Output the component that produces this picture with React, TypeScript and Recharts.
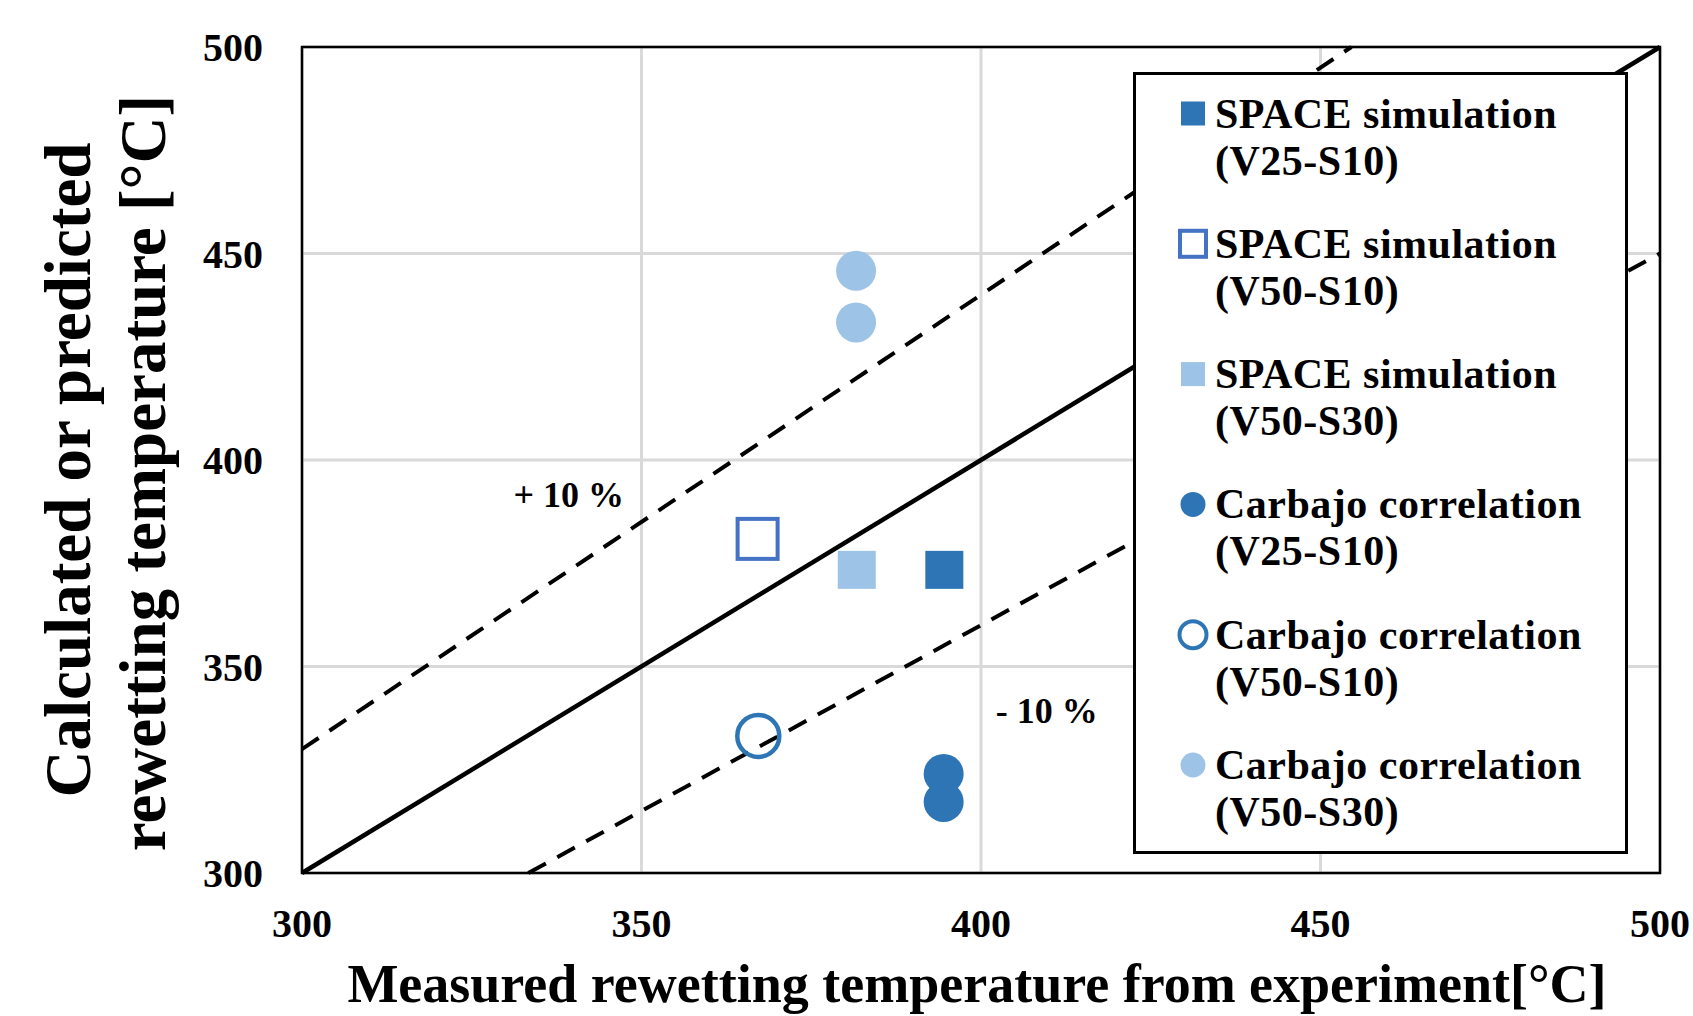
import React from 'react';
import {
  ScatterChart,
  Scatter,
  XAxis,
  YAxis,
  CartesianGrid,
  ReferenceLine,
  ReferenceArea,
  ReferenceDot,
} from 'recharts';

// Measured (x) vs calculated / predicted (y) rewetting temperature [°C]
const spaceV25S10 = [{ x: 394.6, y: 373.4 }];
const spaceV50S10 = [{ x: 367.1, y: 380.9 }];
const spaceV50S30 = [{ x: 381.7, y: 373.4 }];
const carbajoV25S10 = [
  { x: 394.5, y: 324.0 },
  { x: 394.5, y: 317.2 },
];
const carbajoV50S10 = [{ x: 367.2, y: 333.2 }];
const carbajoV50S30 = [
  { x: 381.6, y: 445.8 },
  { x: 381.6, y: 433.3 },
];

const seriesNames = [
  ['SPACE simulation', '(V25-S10)'],
  ['SPACE simulation', '(V50-S10)'],
  ['SPACE simulation', '(V50-S30)'],
  ['Carbajo correlation', '(V25-S10)'],
  ['Carbajo correlation', '(V50-S10)'],
  ['Carbajo correlation', '(V50-S30)'],
];

const axisTicks = [300, 350, 400, 450, 500];

// 1:1 line and the +/-10 % band, end points inside the plot
const perfectLine = [{ x: 300, y: 300 }, { x: 500, y: 500 }];
const plus10Line = [{ x: 300, y: 330 }, { x: 454.55, y: 500 }];
const minus10Line = [{ x: 333.33, y: 300 }, { x: 500, y: 450 }];
const bandLabels = [
  { x: 339.3, y: 391.5, text: '+ 10 %' },
  { x: 409.7, y: 339.2, text: '- 10 %' },
];

const FONT = '"Liberation Serif", "Times New Roman", serif';
const DARK = '#2E75B6';
const LIGHT = '#9DC3E6';
const OUTLINE = '#4472C4';

type MarkStyle = { kind: 'square' | 'circle'; fill: string; stroke?: string };

const markStyles: MarkStyle[] = [
  { kind: 'square', fill: DARK },
  { kind: 'square', fill: '#fff', stroke: OUTLINE },
  { kind: 'square', fill: LIGHT },
  { kind: 'circle', fill: DARK },
  { kind: 'circle', fill: 'none', stroke: DARK },
  { kind: 'circle', fill: LIGHT },
];

const seriesData = [spaceV25S10, spaceV50S10, spaceV50S30, carbajoV25S10, carbajoV50S10, carbajoV50S30];

// big = marker in the plot, otherwise the smaller legend key
const drawMark = (st: MarkStyle, cx: number, cy: number, big: boolean) => {
  if (st.kind === 'square') {
    if (st.stroke) {
      const s = big ? 40 : 26;
      return <rect x={cx - s / 2} y={cy - s / 2} width={s} height={s} fill={st.fill} stroke={st.stroke} strokeWidth={4} />;
    }
    const s = big ? 38 : 24;
    return <rect x={cx - s / 2} y={cy - s / 2} width={s} height={s} fill={st.fill} />;
  }
  if (st.stroke) {
    return <circle cx={cx} cy={cy} r={big ? 21 : 13.5} fill={st.fill} stroke={st.stroke} strokeWidth={big ? 4.5 : 4} />;
  }
  return <circle cx={cx} cy={cy} r={big ? 20 : 12.5} fill={st.fill} />;
};

const tickStyle = { fill: '#000', fontSize: 40, fontWeight: 'bold', fontFamily: FONT };

const YTitle = (props: any) => {
  const vb = props.viewBox;
  const cy = vb.y + vb.height / 2 + 11;
  const common = { fontFamily: FONT, fontWeight: 'bold' as const, fontSize: 65, fill: '#000', textAnchor: 'middle' as const };
  return (
    <g>
      <text {...common} x={90} y={cy - 1} transform={`rotate(-90 90 ${cy - 1})`}>
        Calculated or predicted
      </text>
      <text {...common} x={165} y={cy + 2} transform={`rotate(-90 165 ${cy + 2})`}>
        rewetting temperature [°C]
      </text>
    </g>
  );
};

const XTitle = (props: any) => {
  const vb = props.viewBox;
  return (
    <text
      x={vb.x + vb.width / 2 - 4}
      y={1002}
      textAnchor="middle"
      fontFamily={FONT}
      fontWeight="bold"
      fontSize={54}
      fill="#000"
    >
      Measured rewetting temperature from experiment[°C]
    </text>
  );
};

const LegendBox = () => (
  <div
    style={{
      position: 'absolute',
      left: 1133,
      top: 72,
      width: 495,
      height: 782,
      boxSizing: 'border-box',
      border: '3px solid #000',
      background: '#fff',
    }}
  >
    <svg width={489} height={776} style={{ display: 'block' }}>
      {seriesNames.map((name, i) => {
        const cy = 38.5 + i * 130.3;
        return (
          <g key={i}>
            {drawMark(markStyles[i], 57, cy, false)}
            <text x={79} y={cy + 14} fontFamily={FONT} fontWeight="bold" fontSize={42} letterSpacing={0.5} fill="#000">
              {name[0]}
            </text>
            <text x={79} y={cy + 61} fontFamily={FONT} fontWeight="bold" fontSize={42} letterSpacing={0.5} fill="#000">
              {name[1]}
            </text>
          </g>
        );
      })}
    </svg>
  </div>
);

export default function App() {
  return (
    <div style={{ position: 'relative', width: 1693, height: 1016, background: '#fff' }}>
      <style>{'body{margin:0;overflow:hidden;}'}</style>
      <ScatterChart width={1693} height={1016} margin={{ top: 47, right: 33, bottom: 0, left: 0 }}>
        <CartesianGrid stroke="#D9D9D9" strokeWidth={3} horizontalValues={axisTicks} verticalValues={axisTicks} />
        <XAxis
          type="number"
          dataKey="x"
          domain={[300, 500]}
          ticks={axisTicks}
          allowDataOverflow
          tick={tickStyle}
          tickLine={false}
          axisLine={false}
          tickMargin={30}
          height={143}
          label={XTitle}
        />
        <YAxis
          type="number"
          dataKey="y"
          domain={[300, 500]}
          ticks={axisTicks}
          allowDataOverflow
          tick={tickStyle}
          tickLine={false}
          axisLine={false}
          tickMargin={33}
          width={302}
          label={YTitle}
        />
        <ReferenceArea x1={300} x2={500} y1={300} y2={500} fill="none" fillOpacity={0} stroke="#000" strokeWidth={2.5} />
        <ReferenceLine segment={perfectLine} stroke="#000" strokeWidth={4.5} />
        <ReferenceLine segment={plus10Line} stroke="#000" strokeWidth={4} strokeDasharray="20 13" />
        <ReferenceLine segment={minus10Line} stroke="#000" strokeWidth={4} strokeDasharray="20 13" />
        {bandLabels.map((b) => (
          <ReferenceDot
            key={b.text}
            x={b.x}
            y={b.y}
            r={0}
            shape={(p: any) => (
              <text
                x={p.cx}
                y={p.cy}
                textAnchor="middle"
                dominantBaseline="central"
                fontFamily={FONT}
                fontWeight="bold"
                fontSize={36}
                fill="#000"
              >
                {b.text}
              </text>
            )}
          />
        ))}
        {seriesData.map((data, i) => (
          <Scatter
            key={i}
            name={seriesNames[i].join(' ')}
            data={data}
            isAnimationActive={false}
            shape={(p: any) => drawMark(markStyles[i], p.cx, p.cy, true)}
          />
        ))}
      </ScatterChart>
      <LegendBox />
    </div>
  );
}
